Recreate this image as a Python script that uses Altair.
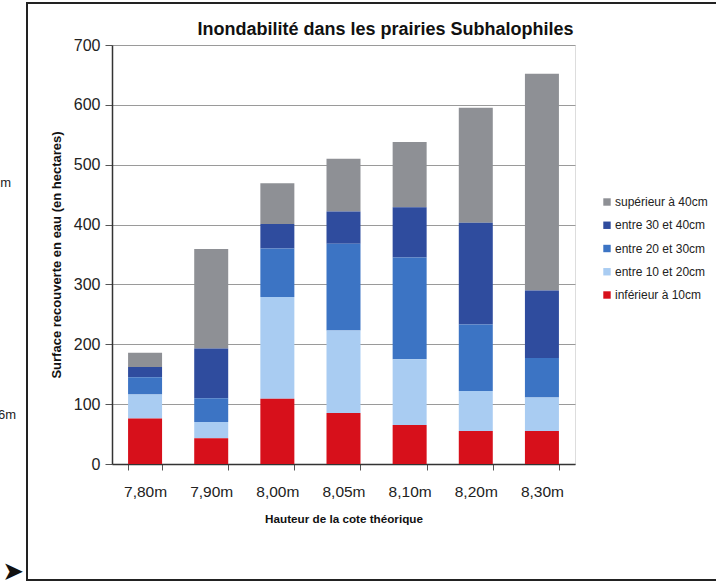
import altair as alt
import pandas as pd

categories = ["7,80m", "7,90m", "8,00m", "8,05m", "8,10m", "8,20m", "8,30m"]
classes = ["supérieur à 40cm", "entre 30 et 40cm", "entre 20 et 30cm",
           "entre 10 et 20cm", "inférieur à 10cm"]
colors = ["#8E9095", "#2F4C9E", "#3C74C4", "#A9CCF2", "#D7101B"]

inf10 = [76, 43, 109, 85, 65, 55, 55]
e10_20 = [40, 27, 170, 138, 110, 67, 56]
e20_30 = [29, 40, 81, 145, 170, 111, 66]
e30_40 = [17, 83, 41, 54, 84, 170, 113]
sup40 = [24, 166, 68, 88, 109, 192, 362]

series = [sup40, e30_40, e20_30, e10_20, inf10]
rows = []
for ci, (cls, vals) in enumerate(zip(classes, series)):
    for cat, v in zip(categories, vals):
        rows.append({"cote": cat, "classe": cls, "surface": v, "rank": 4 - ci})
df = pd.DataFrame(rows)

FONT = "Liberation Sans"

bars = alt.Chart(df).mark_bar().encode(
    x=alt.X("cote:N", sort=categories,
            scale=alt.Scale(paddingInner=0.486, paddingOuter=0.243),
            axis=alt.Axis(title="Hauteur de la cote théorique", labelAngle=0,
                          tickBand="extent", tickSize=6, labelFontSize=15.5,
                          labelPadding=14, titleFontSize=11.7, titleFontWeight="bold",
                          titlePadding=14, domainColor="#333", domainWidth=1.5,
                          tickColor="#555", labelColor="#222", titleColor="#111")),
    y=alt.Y("surface:Q", stack="zero",
            scale=alt.Scale(domain=[0, 700], nice=False),
            axis=alt.Axis(title="Surface recouverte en eau (en hectares)",
                          values=[0, 100, 200, 300, 400, 500, 600, 700],
                          tickSize=7, labelFontSize=16, labelPadding=5,
                          titleFontSize=13, titleFontWeight="bold", titlePadding=10,
                          gridColor="#9a9a9a", gridWidth=1, domainColor="#333",
                          domainWidth=1.5, tickColor="#555", labelColor="#222",
                          titleColor="#111")),
    color=alt.Color("classe:N",
                    scale=alt.Scale(domain=classes, range=colors),
                    legend=alt.Legend(title=None, orient="none", legendX=489,
                                      legendY=151, symbolType="square",
                                      symbolSize=55, symbolStrokeWidth=0,
                                      labelFontSize=12, rowPadding=11.25,
                                      labelOffset=2, padding=0, labelColor="#222")),
    order=alt.Order("rank:Q", sort="ascending"),
)

frame = alt.Chart(pd.DataFrame({"a": [0]})).mark_rect(
    fill=None, stroke="#222", strokeWidth=2
).encode(x=alt.value(-85), x2=alt.value(720), y=alt.value(-42), y2=alt.value(535))

side1 = alt.Chart(pd.DataFrame({"t": ["m"]})).mark_text(
    align="right", fontSize=13, font=FONT, color="#222"
).encode(text="t:N", x=alt.value(-101), y=alt.value(138))
side2 = alt.Chart(pd.DataFrame({"t": ["6m"]})).mark_text(
    align="right", fontSize=13, font=FONT, color="#222"
).encode(text="t:N", x=alt.value(-96), y=alt.value(370))
arrow = alt.Chart(pd.DataFrame({"t": ["➤"]})).mark_text(
    align="right", fontSize=26, font="DejaVu Sans", color="#111"
).encode(text="t:N", x=alt.value(-88), y=alt.value(527))

chart = alt.layer(frame, bars, side1, side2, arrow).properties(
    width=463, height=419,
    autosize=alt.AutoSizeParams(type="none"),
    padding={"left": 112, "top": 45, "right": 141, "bottom": 121},
    title=alt.TitleParams("Inondabilité dans les prairies Subhalophiles",
                          fontSize=18, fontWeight="bold", font=FONT,
                          anchor="middle", dx=42, dy=47, offset=10, color="#111"),
).configure_view(stroke="#333", strokeWidth=1.5).configure(
    font=FONT, background="white"
)

chart.save("out.html", embed_options={"renderer": "svg", "actions": False})
